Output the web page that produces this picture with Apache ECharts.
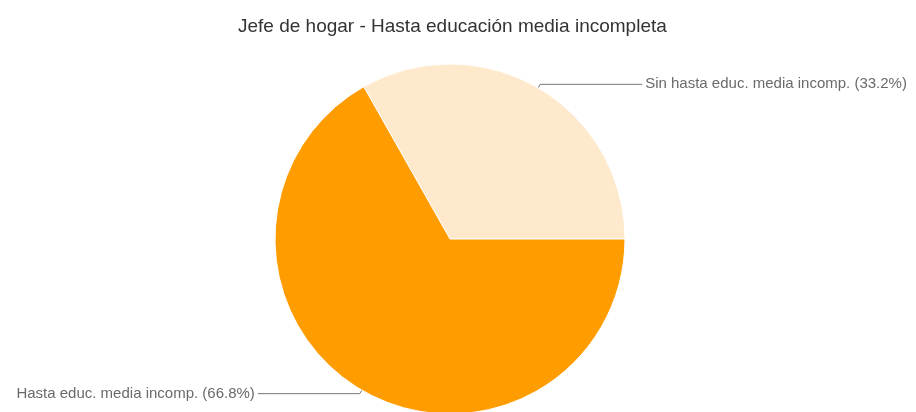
<!DOCTYPE html>
<html>
<head>
<meta charset="utf-8">
<script src="https://cdn.jsdelivr.net/npm/echarts@6/dist/echarts.min.js"></script>
<style>
  html, body { margin: 0; padding: 0; background: #fff; }
  #chart { width: 916px; height: 412px; }
</style>
</head>
<body>
<div id="chart"></div>
<script>
const chartTitle = 'Jefe de hogar - Hasta educación media incompleta'
const categories = ['Sin hasta educ. media incomp.', 'Hasta educ. media incomp.']
const values = [33.2, 66.8]
const colors = ['#FFE9CC', '#FF9C00']

const chart = echarts.init(document.getElementById('chart'))

const option = {
  animation: false,
  title: {
    text: chartTitle,
    left: 233,
    top: 12,
    textStyle: {
      fontFamily: 'Liberation Sans, Arial, sans-serif',
      fontSize: 19,
      fontWeight: 'normal',
      color: '#333',
    },
  },
  series: [
    {
      type: 'pie',
      center: [450, 239],
      radius: 175,
      startAngle: 0,
      clockwise: false,
      avoidLabelOverlap: false,
      data: categories.map(function (name, i) {
        return { name: name, value: values[i], itemStyle: { color: colors[i] } }
      }),
      itemStyle: {
        borderColor: '#fff',
        borderWidth: 1,
      },
      label: {
        position: 'outside',
        formatter: function (p) {
          return p.name + ' (' + p.value.toFixed(1) + '%)'
        },
        fontFamily: 'Liberation Sans, Arial, sans-serif',
        fontSize: 15,
        color: '#6a6a6a',
        distanceToLabelLine: 3,
      },
      labelLine: {
        show: true,
        length: 4,
        length2: 102,
        smooth: false,
        lineStyle: { color: '#777', width: 1 },
      },
      emphasis: { disabled: true },
    },
  ],
}

chart.setOption(option)
</script>
</body>
</html>
